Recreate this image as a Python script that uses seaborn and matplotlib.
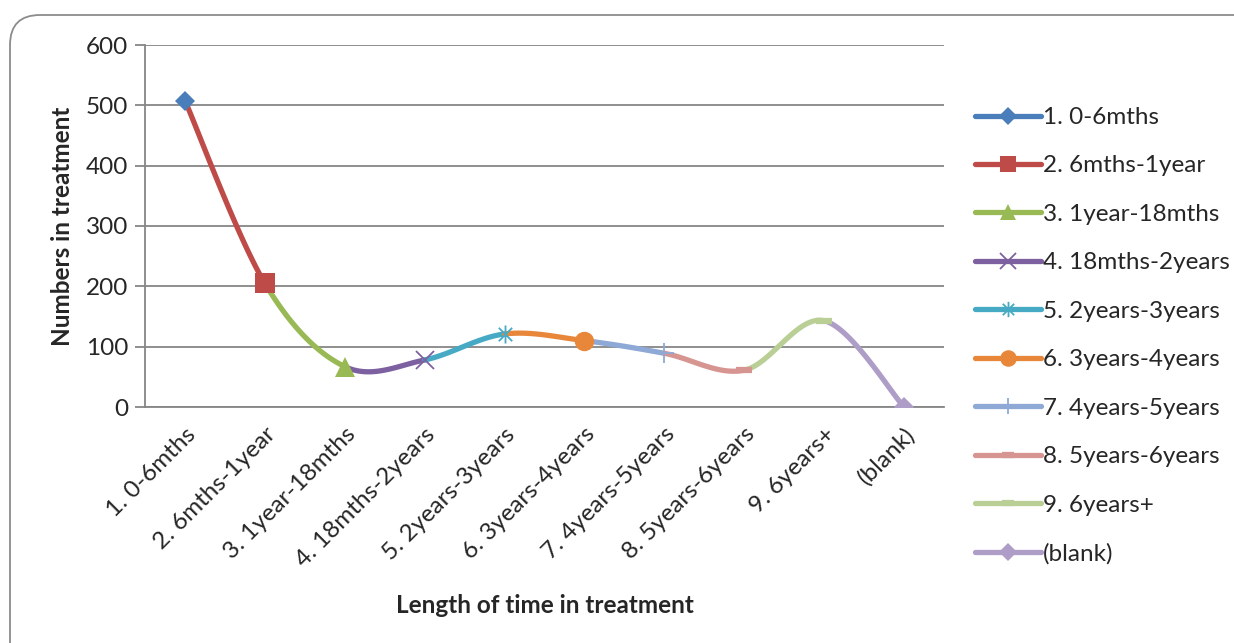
import numpy as np
import pandas as pd
import matplotlib
matplotlib.use("Agg")
import matplotlib.pyplot as plt
from matplotlib.lines import Line2D
from matplotlib.path import Path
from matplotlib.patches import FancyBboxPatch
import seaborn as sns

categories = ["1. 0-6mths", "2. 6mths-1year", "3. 1year-18mths", "4. 18mths-2years",
              "5. 2years-3years", "6. 3years-4years", "7. 4years-5years",
              "8. 5years-6years", "9. 6years+", "(blank)"]
counts = [508, 205, 67, 78, 121, 110, 89, 61, 143, 0]
colors = ["#4A7EBB", "#BE4B48", "#98B954", "#7D60A0", "#46AAC5", "#E8873A",
          "#8EA9D6", "#D79592", "#B9CF95", "#AE9DC6"]

# Excel-style asterisk: an x with a vertical stroke through it
asterisk = Path([(-1, -1), (1, 1), (-1, 1), (1, -1), (0, -1.35), (0, 1.35)],
                [Path.MOVETO, Path.LINETO, Path.MOVETO, Path.LINETO, Path.MOVETO, Path.LINETO])
markers = ["D", "s", "^", "x", asterisk, "o", "+", "_", "_", "D"]
msizes = [10.5, 14, 14, 13, 13, 14, 14, 11, 11, 10.5]
mews = [0, 0, 0, 1.3, 1.3, 0, 1.3, 4.5, 4.5, 0]

FS = 17.5

sns.set_style("white")
plt.rcParams["font.family"] = ["Lato", "DejaVu Sans"]

fig = plt.figure(figsize=(12.34, 6.43), dpi=100)
ax = fig.add_axes([145 / 1234, 1 - 407 / 643, (944 - 145) / 1234, (407 - 45) / 643])

# outer rounded chart border
border = FancyBboxPatch((0.10, -0.6), 13.0, 6.43 - 0.15 + 0.6,
                        boxstyle="round,pad=0,rounding_size=0.3",
                        transform=fig.dpi_scale_trans, fill=False,
                        edgecolor="#8C8C8C", linewidth=1.3, zorder=0)
fig.patches.append(border)

# smoothed curve: cubic Bezier segments with Catmull-Rom style control points
x = np.arange(len(counts), dtype=float)
y = np.asarray(counts, dtype=float)
n = len(x)
rows = []
t = np.linspace(0, 1, 60)
for i in range(n - 1):
    p0 = np.array([x[max(i - 1, 0)], y[max(i - 1, 0)]])
    p1 = np.array([x[i], y[i]])
    p2 = np.array([x[i + 1], y[i + 1]])
    p3 = np.array([x[min(i + 2, n - 1)], y[min(i + 2, n - 1)]])
    c1 = p1 + (p2 - p0) / 6
    c2 = p2 - (p3 - p1) / 6
    bx = (1 - t) ** 3 * p1[0] + 3 * (1 - t) ** 2 * t * c1[0] + 3 * (1 - t) * t ** 2 * c2[0] + t ** 3 * p2[0]
    by = (1 - t) ** 3 * p1[1] + 3 * (1 - t) ** 2 * t * c1[1] + 3 * (1 - t) * t ** 2 * c2[1] + t ** 3 * p2[1]
    for xi, yi in zip(bx, by):
        rows.append({"x": xi, "y": yi, "seg": categories[i + 1]})
curve = pd.DataFrame(rows)

sns.lineplot(data=curve, x="x", y="y", hue="seg", palette=dict(zip(categories, colors)),
             sort=False, estimator=None, linewidth=3.8, legend=False, ax=ax,
             solid_capstyle="round", zorder=3)

for i in range(n):
    ax.plot([x[i]], [y[i]], marker=markers[i], markersize=msizes[i], color=colors[i],
            markeredgecolor=colors[i], markeredgewidth=mews[i], linestyle="none", zorder=4)

ax.set_xlim(-0.5, 9.5)
ax.set_ylim(0, 600)
ax.set_yticks(np.arange(0, 601, 100))
ax.set_xticks(x)
ax.set_xticklabels(categories, rotation=45, ha="right", rotation_mode="anchor", fontsize=FS)
ax.tick_params(axis="x", length=0, pad=12)
ax.tick_params(axis="y", length=7, width=1.3, color="#868686", labelsize=FS, pad=5, left=True)
ax.grid(axis="y", color="#868686", linewidth=1.3, zorder=1)
ax.set_axisbelow(True)
for side in ["top", "right"]:
    ax.spines[side].set_visible(False)
for side in ["left", "bottom"]:
    ax.spines[side].set_color("#868686")
    ax.spines[side].set_linewidth(1.3)

ax.set_ylabel("Numbers in treatment", fontsize=FS, fontweight="bold")
ax.yaxis.set_label_coords(-0.089, 0.5)
ax.set_xlabel("Length of time in treatment", fontsize=FS, fontweight="bold")
ax.xaxis.label.set_va("center")
ax.xaxis.set_label_coords(0.5, -0.547)

handles = []
for i in range(n):
    handles.append(Line2D([0], [0], color=colors[i], linewidth=3.8, marker=markers[i],
                          markersize=msizes[i] * 0.85, markeredgecolor=colors[i],
                          markeredgewidth=mews[i], solid_capstyle="round"))
fig.legend(handles, categories, loc="upper left", bbox_to_anchor=(975 / 1234, 1 - 107 / 643),
           frameon=False, fontsize=FS, handlelength=2.7, handletextpad=0.1,
           labelspacing=1.13, borderpad=0, borderaxespad=0)

fig.savefig("out.png", dpi=100, facecolor="white")
